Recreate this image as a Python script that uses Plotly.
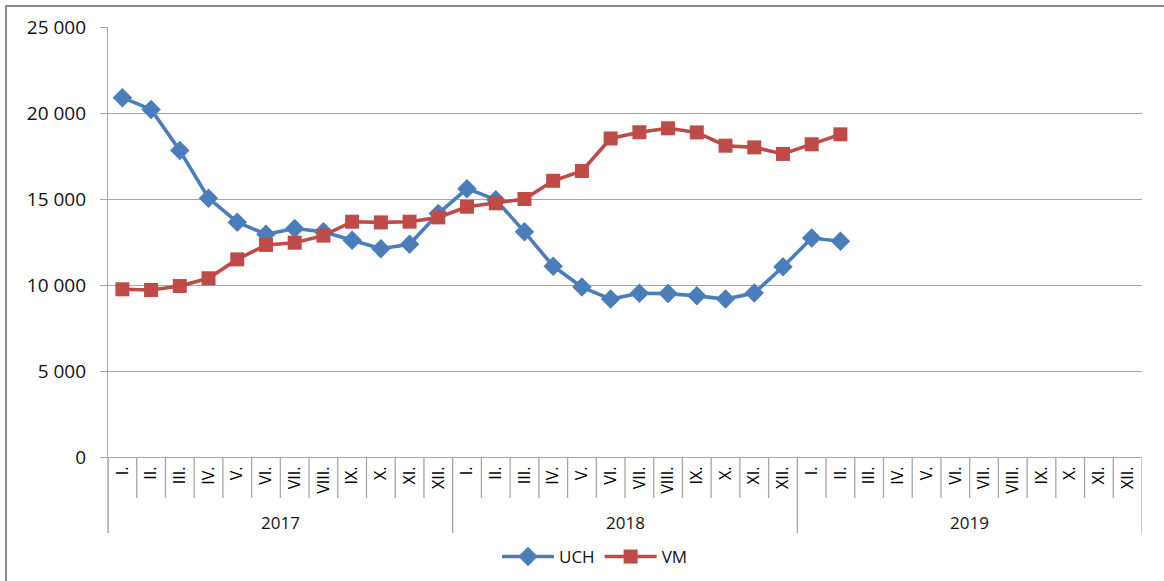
import plotly.graph_objects as go

months = ["I.", "II.", "III.", "IV.", "V.", "VI.", "VII.", "VIII.", "IX.", "X.", "XI.", "XII."]
years = ["2017", "2018", "2019"]
uch = [20890, 20210, 17820, 15050, 13650, 12950, 13280, 13100, 12600, 12110, 12370, 14150,
       15600, 14960, 13090, 11090, 9880, 9180, 9520, 9500, 9370, 9180, 9530, 11060,
       12730, 12540]
vm = [9750, 9710, 9940, 10390, 11490, 12330, 12460, 12870, 13680, 13640, 13680, 13930,
      14550, 14750, 15000, 16060, 16630, 18520, 18880, 19110, 18870, 18100, 18000, 17620,
      18180, 18760]
yticks = [0, 5000, 10000, 15000, 20000, 25000]

cat_labels = [m for _ in years for m in months]
ncat = len(cat_labels)
xs_u = list(range(1, len(uch) + 1))
xs_v = list(range(1, len(vm) + 1))

BLUE = "#4A7EBB"
RED = "#BE4B48"
GRID = "#A6A6A6"
FONT = "Open Sans"

fig = go.Figure()
fig.add_trace(go.Scatter(x=xs_u, y=uch, name="UCH", mode="lines+markers",
                         line=dict(color=BLUE, width=3.6),
                         marker=dict(symbol="diamond", size=15, color=BLUE)))
fig.add_trace(go.Scatter(x=xs_v, y=vm, name="VM", mode="lines+markers",
                         line=dict(color=RED, width=3.6),
                         marker=dict(symbol="square", size=14, color=RED)))

PH = 430.0  # plot height in px
def py(px_below):
    return -px_below / PH

shapes = []
for i in range(ncat + 1):
    boundary = (i % 12 == 0)
    shapes.append(dict(type="line", xref="x", yref="paper",
                       x0=i + 0.5, x1=i + 0.5, y0=0, y1=py(76 if boundary else 41),
                       line=dict(color=GRID, width=1.3)))
shapes.append(dict(type="rect", xref="paper", yref="paper",
                   x0=(6 - 108) / 1034, x1=(1175 - 108) / 1034,
                   y0=py(140), y1=1 + 21 / PH,
                   line=dict(color="#8C8C8C", width=2), fillcolor="rgba(0,0,0,0)",
                   layer="below"))
shapes.append(dict(type="line", xref="paper", yref="paper", x0=0, x1=0, y0=0, y1=py(76),
                   line=dict(color=GRID, width=1.3)))

annotations = []
for j, yr in enumerate(years):
    annotations.append(dict(x=j * 12 + 6.5, y=py(65), xref="x", yref="paper",
                            text=yr, showarrow=False, yanchor="middle",
                            font=dict(family=FONT, size=17, color="#111")))

fig.update_layout(
    width=1164, height=581,
    margin=dict(l=108, r=22, t=27, b=124, autoexpand=False),
    paper_bgcolor="white", plot_bgcolor="white",
    font=dict(family=FONT, color="#000"),
    showlegend=True,
    legend=dict(orientation="h", xref="container", yref="container",
                x=595 / 1164, xanchor="center",
                y=1 - 557 / 581, yanchor="middle", itemwidth=52,
                font=dict(family=FONT, size=17, color="#111")),
    shapes=shapes,
    annotations=annotations,
    xaxis=dict(range=[0.5, ncat + 0.5], tickmode="array",
               tickvals=list(range(1, ncat + 1)), ticktext=cat_labels,
               tickangle=-90, showgrid=False, zeroline=False, automargin=False,
               showline=True, linecolor=GRID, linewidth=1.3,
               ticks="", ticklabelstandoff=2,
               tickfont=dict(family=FONT, size=16, color="#000")),
    yaxis=dict(range=[0, 25000], tickmode="array", tickvals=yticks,
               ticktext=[f"{v:,}".replace(",", " ") for v in yticks],
               showgrid=True, gridcolor=GRID, gridwidth=1.3, zeroline=False,
               showline=True, linecolor=GRID, linewidth=1.3, automargin=False,
               ticks="outside", ticklen=7, tickcolor=GRID, tickwidth=1.3,
               ticklabelstandoff=10,
               tickfont=dict(family=FONT, size=19, color="#111")),
)

fig.write_html("out.html", config={"displayModeBar": False},
               post_script="document.body.style.margin='0px';document.body.style.overflow='hidden';")
